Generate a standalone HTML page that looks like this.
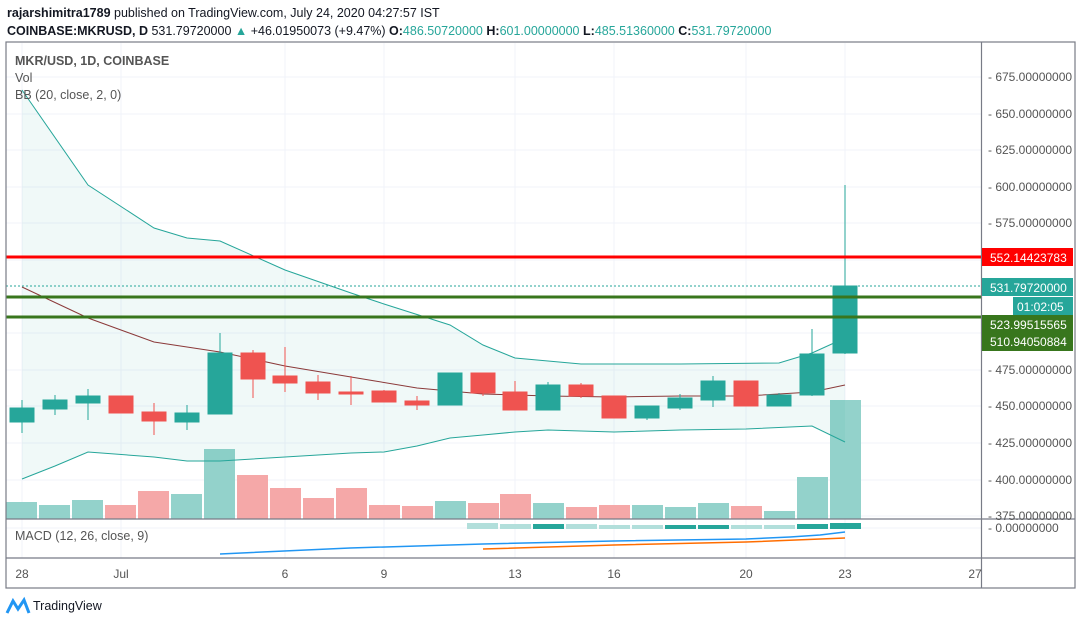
<!DOCTYPE html><html><head><style>body{margin:0;background:#fff;font-family:"Liberation Sans",sans-serif}</style></head><body>
<svg width="1080" height="624" xmlns="http://www.w3.org/2000/svg" font-family="Liberation Sans, sans-serif">
<rect width="1080" height="624" fill="#fff"/>
<text x="7" y="17" font-size="12.5" fill="#131722"><tspan font-weight="bold">rajarshimitra1789</tspan> published on TradingView.com, July 24, 2020 04:27:57 IST</text>
<text x="7" y="35" font-size="12.5" fill="#131722"><tspan font-weight="bold">COINBASE:MKRUSD, D</tspan> 531.79720000 <tspan fill="#26a69a">▲</tspan> +46.01950073 (+9.47%) <tspan font-weight="bold">O:</tspan><tspan fill="#26a69a">486.50720000</tspan> <tspan font-weight="bold">H:</tspan><tspan fill="#26a69a">601.00000000</tspan> <tspan font-weight="bold">L:</tspan><tspan fill="#26a69a">485.51360000</tspan> <tspan font-weight="bold">C:</tspan><tspan fill="#26a69a">531.79720000</tspan></text>
<g stroke="#f0f3fa" stroke-width="1">
<line x1="22" y1="43" x2="22" y2="558"/><line x1="121" y1="43" x2="121" y2="558"/><line x1="285" y1="43" x2="285" y2="558"/><line x1="384" y1="43" x2="384" y2="558"/><line x1="515" y1="43" x2="515" y2="558"/><line x1="614" y1="43" x2="614" y2="558"/><line x1="746" y1="43" x2="746" y2="558"/><line x1="845" y1="43" x2="845" y2="558"/>
<line x1="6" y1="77" x2="981" y2="77"/><line x1="6" y1="114" x2="981" y2="114"/><line x1="6" y1="150" x2="981" y2="150"/><line x1="6" y1="187" x2="981" y2="187"/><line x1="6" y1="223" x2="981" y2="223"/><line x1="6" y1="260" x2="981" y2="260"/><line x1="6" y1="297" x2="981" y2="297"/><line x1="6" y1="333" x2="981" y2="333"/><line x1="6" y1="370" x2="981" y2="370"/><line x1="6" y1="406" x2="981" y2="406"/><line x1="6" y1="443" x2="981" y2="443"/><line x1="6" y1="480" x2="981" y2="480"/><line x1="6" y1="516" x2="981" y2="516"/><line x1="6" y1="528" x2="981" y2="528"/>
</g>
<!-- volume -->
<g>
<rect x="6" y="502" width="31" height="17" fill="#93d2cb"/><rect x="39" y="505" width="31" height="14" fill="#93d2cb"/><rect x="72" y="500" width="31" height="19" fill="#93d2cb"/><rect x="105" y="505" width="31" height="14" fill="#f5a8a8"/><rect x="138" y="491" width="31" height="28" fill="#f5a8a8"/><rect x="171" y="494" width="31" height="25" fill="#93d2cb"/><rect x="204" y="449" width="31" height="70" fill="#93d2cb"/><rect x="237" y="475" width="31" height="44" fill="#f5a8a8"/><rect x="270" y="488" width="31" height="31" fill="#f5a8a8"/><rect x="303" y="498" width="31" height="21" fill="#f5a8a8"/><rect x="336" y="488" width="31" height="31" fill="#f5a8a8"/><rect x="369" y="505" width="31" height="14" fill="#f5a8a8"/><rect x="402" y="506" width="31" height="13" fill="#f5a8a8"/><rect x="435" y="501" width="31" height="18" fill="#93d2cb"/><rect x="468" y="503" width="31" height="16" fill="#f5a8a8"/><rect x="500" y="494" width="31" height="25" fill="#f5a8a8"/><rect x="533" y="503" width="31" height="16" fill="#93d2cb"/><rect x="566" y="507" width="31" height="12" fill="#f5a8a8"/><rect x="599" y="505" width="31" height="14" fill="#f5a8a8"/><rect x="632" y="505" width="31" height="14" fill="#93d2cb"/><rect x="665" y="507" width="31" height="12" fill="#93d2cb"/><rect x="698" y="503" width="31" height="16" fill="#93d2cb"/><rect x="731" y="506" width="31" height="13" fill="#f5a8a8"/><rect x="764" y="511" width="31" height="8" fill="#93d2cb"/><rect x="797" y="477" width="31" height="42" fill="#93d2cb"/><rect x="830" y="400" width="31" height="119" fill="#93d2cb"/>
</g>
<!-- BB -->
<polygon points="22,90 88,185 154,228 187,238 220,241 285,270 351,293 384,304 450,325 483,345 515,358 581,364 680,364 779,363 812,353 845,338 845,442 812,426 746,429 680,430 614,432 548,430 515,432 483,435 450,438 417,446 384,452 351,453 285,457 220,461 187,461 154,457 88,452 55,466 22,479" fill="#26a69a" fill-opacity="0.07"/>
<polyline points="22,90 88,185 154,228 187,238 220,241 285,270 351,293 384,304 450,325 483,345 515,358 581,364 680,364 779,363 812,353 845,338" fill="none" stroke="#26a69a" stroke-width="1"/>
<polyline points="22,479 55,466 88,452 154,457 187,461 220,461 285,457 351,453 384,452 417,446 450,438 483,435 515,432 548,430 614,432 680,430 746,429 812,426 845,442" fill="none" stroke="#26a69a" stroke-width="1"/>
<polyline points="22,287 88,318 154,342 220,352 285,366 351,377 417,388 483,394 548,396 614,397 680,396 746,396 812,392 845,385" fill="none" stroke="#8b3a3a" stroke-width="1"/>
<!-- candles -->
<g stroke-width="1">
<g stroke="#26a69a" fill="#26a69a">
<line x1="22" y1="400" x2="22" y2="433"/><rect x="10" y="408" width="24" height="14"/>
<line x1="55" y1="395" x2="55" y2="415"/><rect x="43" y="400" width="24" height="9"/>
<line x1="88" y1="389" x2="88" y2="420"/><rect x="76" y="396" width="24" height="7"/>
<line x1="187" y1="405" x2="187" y2="430"/><rect x="175" y="413" width="24" height="9"/>
<line x1="220" y1="333" x2="220" y2="414"/><rect x="208" y="353" width="24" height="61"/>
<line x1="450" y1="373" x2="450" y2="405"/><rect x="438" y="373" width="24" height="32"/>
<line x1="548" y1="382" x2="548" y2="410"/><rect x="536" y="385" width="24" height="25"/>
<line x1="647" y1="406" x2="647" y2="420"/><rect x="635" y="406" width="24" height="12"/>
<line x1="680" y1="394" x2="680" y2="410"/><rect x="668" y="398" width="24" height="10"/>
<line x1="713" y1="376" x2="713" y2="407"/><rect x="701" y="381" width="24" height="19"/>
<line x1="779" y1="393" x2="779" y2="406"/><rect x="767" y="395" width="24" height="11"/>
<line x1="812" y1="329" x2="812" y2="396"/><rect x="800" y="354" width="24" height="41"/>
<line x1="845" y1="185" x2="845" y2="354"/><rect x="833" y="286" width="24" height="67"/>
</g>
<g stroke="#ef5350" fill="#ef5350">
<line x1="121" y1="396" x2="121" y2="413"/><rect x="109" y="396" width="24" height="17"/>
<line x1="154" y1="403" x2="154" y2="435"/><rect x="142" y="412" width="24" height="9"/>
<line x1="253" y1="350" x2="253" y2="398"/><rect x="241" y="353" width="24" height="26"/>
<line x1="285" y1="347" x2="285" y2="392"/><rect x="273" y="376" width="24" height="7"/>
<line x1="318" y1="375" x2="318" y2="400"/><rect x="306" y="382" width="24" height="11"/>
<line x1="351" y1="376" x2="351" y2="405"/><rect x="339" y="392" width="24" height="2"/>
<line x1="384" y1="390" x2="384" y2="402"/><rect x="372" y="391" width="24" height="11"/>
<line x1="417" y1="396" x2="417" y2="410"/><rect x="405" y="401" width="24" height="4"/>
<line x1="483" y1="373" x2="483" y2="396"/><rect x="471" y="373" width="24" height="20"/>
<line x1="515" y1="381" x2="515" y2="410"/><rect x="503" y="392" width="24" height="18"/>
<line x1="581" y1="383" x2="581" y2="398"/><rect x="569" y="385" width="24" height="11"/>
<line x1="614" y1="396" x2="614" y2="418"/><rect x="602" y="396" width="24" height="22"/>
<line x1="746" y1="381" x2="746" y2="406"/><rect x="734" y="381" width="24" height="25"/>
</g></g>
<!-- horizontal lines -->
<line x1="6" y1="286" x2="981" y2="286" stroke="#26a69a" stroke-dasharray="2,2"/>
<line x1="6" y1="257" x2="981" y2="257" stroke="#ff0000" stroke-width="3"/>
<line x1="6" y1="297" x2="981" y2="297" stroke="#38761d" stroke-width="3"/>
<line x1="6" y1="317" x2="981" y2="317" stroke="#38761d" stroke-width="3"/>
<!-- legend -->
<text x="15" y="65" font-size="12.5" font-weight="bold" fill="#555">MKR/USD, 1D, COINBASE</text>
<text x="15" y="82" font-size="12.5" fill="#555">Vol</text>
<text x="15" y="99" font-size="12.5" fill="#555">BB (20, close, 2, 0)</text>
<!-- MACD -->
<g>
<rect x="467" y="523" width="31" height="6" fill="#b2dfdb"/><rect x="500" y="524" width="31" height="5" fill="#b2dfdb"/><rect x="533" y="524" width="31" height="5" fill="#26a69a"/><rect x="566" y="524" width="31" height="5" fill="#b2dfdb"/><rect x="599" y="525" width="31" height="4" fill="#b2dfdb"/><rect x="632" y="525" width="31" height="4" fill="#b2dfdb"/><rect x="665" y="525" width="31" height="4" fill="#26a69a"/><rect x="698" y="525" width="31" height="4" fill="#26a69a"/><rect x="731" y="525" width="31" height="4" fill="#b2dfdb"/><rect x="764" y="525" width="31" height="4" fill="#b2dfdb"/><rect x="797" y="524" width="31" height="5" fill="#26a69a"/><rect x="830" y="523" width="31" height="6" fill="#26a69a"/>
</g>
<polyline points="220,554 350,548 483,544 614,541 746,539 790,537 820,535 845,532" fill="none" stroke="#2196f3" stroke-width="1.5"/>
<polyline points="483,549 614,545 746,542 845,538" fill="none" stroke="#ff6d00" stroke-width="1.5"/>
<text x="15" y="540" font-size="12.5" fill="#555">MACD (12, 26, close, 9)</text>
<!-- frame -->
<g stroke="#787b86" stroke-width="1.2" fill="none">
<rect x="6" y="42" width="1069" height="546"/>
<line x1="981.5" y1="42" x2="981.5" y2="588"/>
<line x1="6" y1="519" x2="1075" y2="519"/>
<line x1="6" y1="558" x2="1075" y2="558"/>
</g>
<!-- price labels -->
<g font-size="12" fill="#555">
<text x="988" y="81">- 675.00000000</text><text x="988" y="118">- 650.00000000</text><text x="988" y="154">- 625.00000000</text><text x="988" y="191">- 600.00000000</text><text x="988" y="227">- 575.00000000</text><text x="988" y="374">- 475.00000000</text><text x="988" y="410">- 450.00000000</text><text x="988" y="447">- 425.00000000</text><text x="988" y="484">- 400.00000000</text><text x="988" y="520">- 375.00000000</text><text x="988" y="532">- 0.00000000</text>
</g>
<rect x="982" y="248" width="91" height="18" fill="#ff0000"/><text x="990" y="262" font-size="12" fill="#fff">552.14423783</text>
<rect x="982" y="278" width="91" height="18" fill="#26a69a"/><text x="990" y="292" font-size="12" fill="#fff">531.79720000</text>
<rect x="1013" y="297" width="60" height="18" fill="#26a69a"/><text x="1017" y="311" font-size="12" fill="#fff">01:02:05</text>
<rect x="982" y="315" width="91" height="36" fill="#38761d"/><text x="990" y="329" font-size="12" fill="#fff">523.99515565</text><text x="990" y="346" font-size="12" fill="#fff">510.94050884</text>
<!-- time labels -->
<g font-size="12" fill="#555" text-anchor="middle">
<text x="22" y="578">28</text><text x="121" y="578">Jul</text><text x="285" y="578">6</text><text x="384" y="578">9</text><text x="515" y="578">13</text><text x="614" y="578">16</text><text x="746" y="578">20</text><text x="845" y="578">23</text><text x="975" y="578">27</text>
</g>
<path d="M7,613 L13,601 L18,609 L24,600 L29,613" fill="none" stroke="#2196f3" stroke-width="3"/>
<text x="33" y="610" font-size="12.5" fill="#131722">TradingView</text>
</svg></body></html>
